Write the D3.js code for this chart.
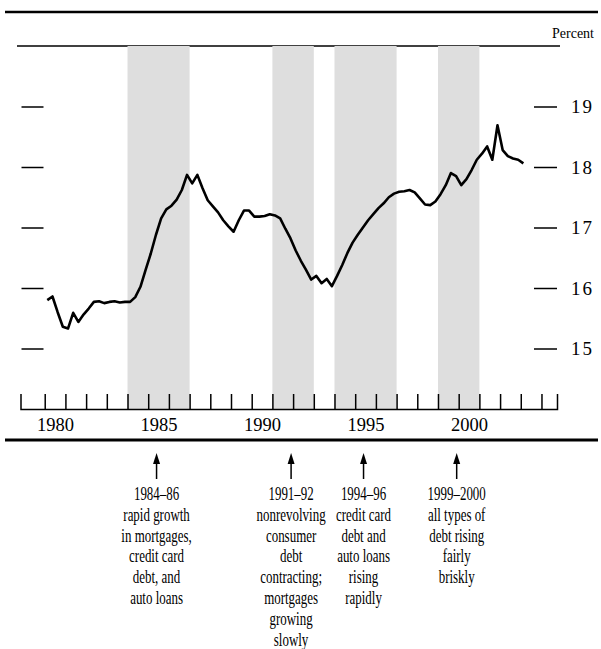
<!DOCTYPE html>
<html>
<head>
<meta charset="utf-8">
<script src="https://cdn.jsdelivr.net/npm/d3@7"></script>
<style>
  body { margin: 0; background: #fff; }
  svg { display: block; font-family: "Liberation Serif", "Times New Roman", serif; }
</style>
</head>
<body>
<script>
// household debt service ratio, quarterly 1980Q1 - 2003Q1 (percent)
const years = d3.range(1980, 2004);
const ratio = [
  15.80, 15.86, 15.60, 15.36,   // 1980
  15.33, 15.59, 15.44, 15.56,   // 1981
  15.66, 15.77, 15.78, 15.75,   // 1982
  15.77, 15.78, 15.76, 15.77,   // 1983
  15.77, 15.85, 16.02, 16.30,   // 1984
  16.57, 16.88, 17.15, 17.30,   // 1985
  17.36, 17.46, 17.62, 17.87,   // 1986
  17.73, 17.87, 17.65, 17.45,   // 1987
  17.35, 17.25, 17.12, 17.02,   // 1988
  16.93, 17.12, 17.28, 17.28,   // 1989
  17.18, 17.18, 17.19, 17.22,   // 1990
  17.20, 17.15, 16.98, 16.82,   // 1991
  16.62, 16.45, 16.30, 16.14,   // 1992
  16.20, 16.08, 16.15, 16.03,   // 1993
  16.20, 16.38, 16.58, 16.75,   // 1994
  16.88, 17.00, 17.12, 17.22,   // 1995
  17.32, 17.40, 17.50, 17.56,   // 1996
  17.59, 17.60, 17.62, 17.58,   // 1997
  17.48, 17.38, 17.37, 17.43,   // 1998
  17.55, 17.70, 17.90, 17.85,   // 1999
  17.70, 17.80, 17.95, 18.12,   // 2000
  18.22, 18.34, 18.12, 18.69,   // 2001
  18.28, 18.18, 18.14, 18.12,   // 2002
  18.06                         // 2003
];
const yTicks = [15, 16, 17, 18, 19];
const yearLabels = [1980, 1985, 1990, 1995, 2000];

// shaded periods [start, end) and their notes
const periods = [[1984, 1987], [1991, 1993], [1994, 1997], [1999, 2001]];
const notes = [
  ["1984–86", "rapid growth", "in mortgages,", "credit card", "debt, and", "auto loans"],
  ["1991–92", "nonrevolving", "consumer", "debt", "contracting;", "mortgages", "growing", "slowly"],
  ["1994–96", "credit card", "debt and", "auto loans", "rising", "rapidly"],
  ["1999–2000", "all types of", "debt rising", "fairly", "briskly"]
];

const width = 601, height = 649;
const plotL = 20.5, plotR = 557, plotT = 46, plotB = 409;

const data = ratio.map((v, i) => ({ t: 1980 + Math.floor(i / 4) + (i % 4) * 0.25 + 0.125, v: v }));

const x = d3.scaleLinear().domain([1978.83, 2004.75]).range([plotL, plotR]);
const y = d3.scaleLinear().domain([14, 20]).range([plotB, plotT]);

const svg = d3.select("body").append("svg")
    .attr("width", width)
    .attr("height", height)
    .attr("viewBox", [0, 0, width, height]);

// rules at top and bottom of the figure
svg.append("line").attr("x1", 5).attr("x2", 598).attr("y1", 12).attr("y2", 12)
    .attr("stroke", "#000").attr("stroke-width", 2.5);
svg.append("line").attr("x1", 17).attr("x2", 560).attr("y1", plotT).attr("y2", plotT)
    .attr("stroke", "#000").attr("stroke-width", 1.5);
svg.append("line").attr("x1", 5).attr("x2", 598).attr("y1", 440).attr("y2", 440)
    .attr("stroke", "#000").attr("stroke-width", 3);

svg.append("text")
    .attr("x", 594).attr("y", 38)
    .attr("text-anchor", "end")
    .attr("font-size", 14)
    .text("Percent");

// shaded periods
svg.append("g").selectAll("rect")
    .data(periods)
    .join("rect")
    .attr("x", d => x(d[0]))
    .attr("width", d => x(d[1]) - x(d[0]))
    .attr("y", plotT)
    .attr("height", plotB - plotT)
    .attr("fill", "#dedede");

// left ticks (no labels)
svg.append("g")
    .attr("transform", `translate(${plotL + 1},0)`)
    .call(d3.axisRight(y).tickValues(yTicks).tickSize(22).tickFormat(""))
    .call(g => g.select(".domain").remove())
    .call(g => g.selectAll(".tick line").attr("stroke-width", 1.5));

// right ticks with labels
svg.append("g")
    .attr("transform", "translate(534,0)")
    .call(d3.axisRight(y).tickValues(yTicks).tickSize(23).tickPadding(14).tickFormat(d3.format("d")))
    .call(g => g.select(".domain").remove())
    .call(g => g.selectAll(".tick line").attr("stroke-width", 1.5))
    .call(g => g.selectAll(".tick text")
        .attr("font-family", "Liberation Serif, serif")
        .attr("font-size", 19)
        .attr("letter-spacing", 2)
        .attr("fill", "#000"));

// x axis: yearly ticks pointing up
svg.append("g")
    .attr("transform", `translate(0,${plotB})`)
    .call(d3.axisBottom(x).tickValues(years.concat([2004])).tickSize(-15).tickSizeOuter(-15).tickFormat(""))
    .call(g => g.selectAll("line, path").attr("stroke-width", 1.5));

// year labels centred in the year
svg.append("g")
    .attr("transform", `translate(0,${plotB})`)
    .call(d3.axisBottom(x).tickValues(yearLabels.map(d => d + 0.5)).tickSize(0).tickPadding(9).tickFormat(d => Math.floor(d)))
    .call(g => g.select(".domain").remove())
    .call(g => g.selectAll(".tick text")
        .attr("font-family", "Liberation Serif, serif")
        .attr("font-size", 18.5)
        .attr("fill", "#000"));

// the series
svg.append("path")
    .datum(data)
    .attr("fill", "none")
    .attr("stroke", "#000")
    .attr("stroke-width", 2.6)
    .attr("stroke-linejoin", "round")
    .attr("d", d3.line().x(d => x(d.t)).y(d => y(d.v)));

// arrows and notes below the chart
const note = svg.append("g").selectAll("g")
    .data(periods)
    .join("g")
    .attr("transform", d => `translate(${x((d[0] + d[1]) / 2) - 2},0)`);

note.append("line")
    .attr("y1", 462).attr("y2", 479)
    .attr("stroke", "#000").attr("stroke-width", 1.5);
note.append("path")
    .attr("d", "M0,453 L-3.5,464 L3.5,464 Z")
    .attr("fill", "#000");

note.each(function (d, i) {
    d3.select(this).selectAll("text")
        .data(notes[i])
        .join("text")
        .attr("transform", (s, j) => `translate(0,${500 + j * 20.8}) scale(0.7,1)`)
        .attr("text-anchor", "middle")
        .attr("font-size", 18.5)
        .text(s => s);
});
</script>
</body>
</html>
